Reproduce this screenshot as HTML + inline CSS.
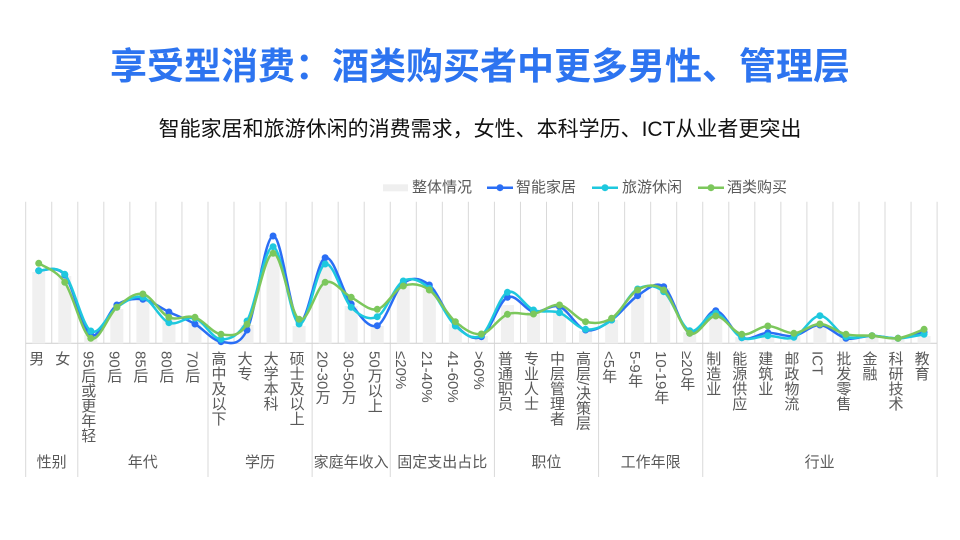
<!DOCTYPE html>
<html><head><meta charset="utf-8">
<style>
html,body{margin:0;padding:0;background:#fff;}
body{width:960px;height:540px;position:relative;overflow:hidden;font-family:"Liberation Sans","Noto Sans CJK SC",sans-serif;}
.title{position:absolute;left:0;top:44px;width:960px;text-align:center;font-size:37px;font-weight:bold;color:#2d74f0;line-height:46px;white-space:nowrap;}
.sub{position:absolute;left:0;top:116px;width:960px;text-align:center;font-size:21px;color:#111;line-height:28px;white-space:nowrap;}
svg{position:absolute;left:0;top:0;}
.c{position:absolute;top:351px;width:26px;display:flex;justify-content:center;}
.c span{writing-mode:vertical-rl;font-size:15px;line-height:15px;color:#595959;white-space:nowrap;}
.g{position:absolute;top:455px;font-size:15px;line-height:16px;color:#595959;text-align:center;white-space:nowrap;}
.lg{position:absolute;top:179px;font-size:15px;line-height:18px;color:#595959;white-space:nowrap;}
</style></head><body>
<div class="title">享受型消费：酒类购买者中更多男性、管理层</div>
<div class="sub">智能家居和旅游休闲的消费需求，女性、本科学历、ICT从业者更突出</div>

<svg id="chart" width="960" height="540" viewBox="0 0 960 540">
  <rect x="383" y="184.3" width="25" height="7" fill="#efefef"/>
  <line x1="487" y1="187.7" x2="513" y2="187.7" stroke="#2a6ef5" stroke-width="2.5"/>
  <circle cx="500" cy="187.7" r="3.5" fill="#2a6ef5"/>
  <line x1="592" y1="187.7" x2="618" y2="187.7" stroke="#1ec8de" stroke-width="2.5"/>
  <circle cx="605" cy="187.7" r="3.5" fill="#1ec8de"/>
  <line x1="698" y1="187.7" x2="724" y2="187.7" stroke="#7cc75c" stroke-width="2.5"/>
  <circle cx="711" cy="187.7" r="3.5" fill="#7cc75c"/>
  <g id="grid"></g>
  <g id="bars"></g>
  <g id="series"></g>
</svg>

<div class="lg" style="left:412px">整体情况</div>
<div class="lg" style="left:516px">智能家居</div>
<div class="lg" style="left:622px">旅游休闲</div>
<div class="lg" style="left:727px">酒类购买</div>

<div class="c" style="left:22.7px"><span>男</span></div>
<div class="c" style="left:48.7px"><span>女</span></div>
<div class="c" style="left:74.8px"><span>95后或更年轻</span></div>
<div class="c" style="left:100.8px"><span>90后</span></div>
<div class="c" style="left:126.9px"><span>85后</span></div>
<div class="c" style="left:152.9px"><span>80后</span></div>
<div class="c" style="left:178.9px"><span>70后</span></div>
<div class="c" style="left:205.0px"><span>高中及以下</span></div>
<div class="c" style="left:231.0px"><span>大专</span></div>
<div class="c" style="left:257.1px"><span>大学本科</span></div>
<div class="c" style="left:283.1px"><span>硕士及以上</span></div>
<div class="c" style="left:309.1px"><span>20-30万</span></div>
<div class="c" style="left:335.2px"><span>30-50万</span></div>
<div class="c" style="left:361.2px"><span>50万以上</span></div>
<div class="c" style="left:387.3px"><span>≤20%</span></div>
<div class="c" style="left:413.3px"><span>21-40%</span></div>
<div class="c" style="left:439.3px"><span>41-60%</span></div>
<div class="c" style="left:465.4px"><span>&gt;60%</span></div>
<div class="c" style="left:491.4px"><span>普通职员</span></div>
<div class="c" style="left:517.5px"><span>专业人士</span></div>
<div class="c" style="left:543.5px"><span>中层管理者</span></div>
<div class="c" style="left:569.5px"><span>高层/决策层</span></div>
<div class="c" style="left:595.6px"><span>&lt;5年</span></div>
<div class="c" style="left:621.6px"><span>5-9年</span></div>
<div class="c" style="left:647.7px"><span>10-19年</span></div>
<div class="c" style="left:673.7px"><span>≥20年</span></div>
<div class="c" style="left:699.7px"><span>制造业</span></div>
<div class="c" style="left:725.8px"><span>能源供应</span></div>
<div class="c" style="left:751.8px"><span>建筑业</span></div>
<div class="c" style="left:777.9px"><span>邮政物流</span></div>
<div class="c" style="left:803.9px"><span>ICT</span></div>
<div class="c" style="left:829.9px"><span>批发零售</span></div>
<div class="c" style="left:856.0px"><span>金融</span></div>
<div class="c" style="left:882.0px"><span>科研技术</span></div>
<div class="c" style="left:908.1px"><span>教育</span></div>

<div class="g" style="left:25.7px;width:52px">性别</div>
<div class="g" style="left:77.8px;width:130px">年代</div>
<div class="g" style="left:208px;width:104px">学历</div>
<div class="g" style="left:312.1px;width:78px">家庭年收入</div>
<div class="g" style="left:390.3px;width:104px">固定支出占比</div>
<div class="g" style="left:494.4px;width:104px">职位</div>
<div class="g" style="left:598.6px;width:104px">工作年限</div>
<div class="g" style="left:702.7px;width:234px">行业</div>

<script>
(function(){
var NS="http://www.w3.org/2000/svg";
var X0=25.7,W=26.04,TOP=201.7,BASE=343.3,BOT=477;
function cx(i){return X0+W*(i+0.5);}
function el(tag,attrs,parent){var e=document.createElementNS(NS,tag);for(var k in attrs)e.setAttribute(k,attrs[k]);parent.appendChild(e);return e;}
var grid=document.getElementById("grid"),bars=document.getElementById("bars"),ser=document.getElementById("series");
var groups=[0,2,7,11,14,18,22,26,35];
for(var i=0;i<=35;i++){
  var x=X0+W*i;
  var isG=groups.indexOf(i)>=0;
  el("line",{x1:x,y1:TOP,x2:x,y2:isG?BOT:BASE,stroke:"#d9d9d9","stroke-width":1},grid);
}
el("line",{x1:X0,y1:BASE,x2:X0+W*35,y2:BASE,stroke:"#d4d4d4","stroke-width":1.2},grid);

var barTop=[272,276,335,309,300,319,321,341,325,253,326,260,306,326,286,289,324,336,305,312,310,331,320,294,288,332,316,337,337,336,326,337,337,338,336];
for(var i=0;i<35;i++){
  el("rect",{x:cx(i)-6.5,y:barTop[i],width:13,height:BASE-barTop[i],fill:"#f0f0f0"},bars);
}

var blue=[270.7,275,335,305,299.3,312,324,341.7,330,236,321.7,257.7,304,325.7,283.3,285,325,336.7,297.3,311.7,306.7,330,320,295.7,286.7,333.3,310.7,337.7,332.7,336,325,338.3,335.7,338.3,332.3];
var cyan=[270.7,274.3,331,307.3,297.3,322.7,318.3,339.3,321,246.7,324,264,307.3,316.7,281,288.3,326,335.3,292.3,310,312.7,329.3,320,289,291.7,330.7,313.3,337.7,335.7,337.3,315.7,336.7,335.7,338.3,334.3];
var green=[263.3,282.3,338.3,307.3,294,317.3,317.3,334.3,324.3,253.3,319.3,282.3,297.3,309.3,286,290,321.7,334,314.3,314,305,321.7,318.3,290,290,333.3,316,334.3,326,333.3,324,334.3,335.7,338.3,329.3];

function smooth(ys){
  var n=ys.length;
  var d="M"+cx(0).toFixed(2)+","+ys[0];
  for(var i=0;i<n-1;i++){
    var p0=i>0?i-1:i, p3=i+2<n?i+2:i+1;
    var c1x=cx(i)+(cx(i+1)-cx(p0))/6, c1y=ys[i]+(ys[i+1]-ys[p0])/6;
    var c2x=cx(i+1)-(cx(p3)-cx(i))/6, c2y=ys[i+1]-(ys[p3]-ys[i])/6;
    d+=" C"+c1x.toFixed(2)+","+c1y.toFixed(2)+" "+c2x.toFixed(2)+","+c2y.toFixed(2)+" "+cx(i+1).toFixed(2)+","+ys[i+1];
  }
  return d;
}
function series(ys,color){
  el("path",{d:smooth(ys),fill:"none",stroke:color,"stroke-width":2.5,"stroke-linejoin":"round","stroke-linecap":"round"},ser);
  for(var i=0;i<ys.length;i++) el("circle",{cx:cx(i),cy:ys[i],r:3.5,fill:color},ser);
}
series(blue,"#2a6ef5");
series(cyan,"#1ec8de");
series(green,"#7cc75c");
})();
</script>
</body></html>
